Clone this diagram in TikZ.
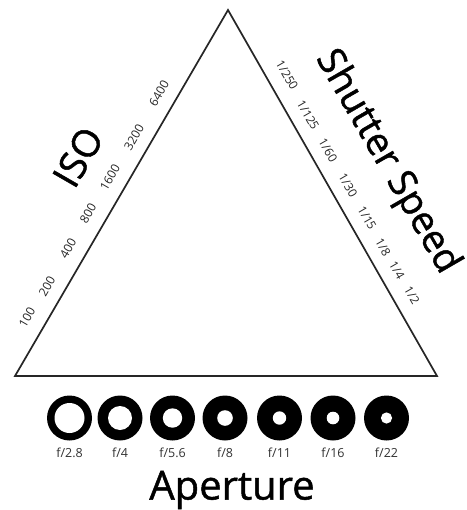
\documentclass[tikz,border=0pt]{standalone}
\usepackage{fontspec}
\setmainfont{Open Sans}
\newfontfamily\heavyfont{Open Sans}[FakeBold=1.2]
\begin{document}
\begin{tikzpicture}[x=1pt,y=-1pt,
  side/.style={line width=1.7pt,line join=miter,draw=black!85},
  isonum/.style={font=\fontsize{12}{14}\selectfont,rotate=60,inner sep=0pt,text=black!85},
  shnum/.style={font=\fontsize{12}{14}\selectfont,rotate=-60,inner sep=0pt,text=black!85},
  big/.style={font=\heavyfont\fontsize{38}{42}\selectfont,inner sep=0pt},
  flabel/.style={font=\fontsize{12.5}{14}\selectfont,inner sep=0pt,text=black!80},
  ring/.style={fill=black},
  hole/.style={fill=white}]
\useasboundingbox (0,0) rectangle (466,510);
\fill[white] (0,0) rectangle (466,510);
\coordinate (A) at (228,10);
\coordinate (L) at (15,376);
\coordinate (R) at (437,376);
\draw[side] (A) -- (R) -- (L) -- cycle;
% ISO
\node[big,rotate=60] (iso) at (78,157) {ISO};
\node[isonum] (i100) at (27,317) {100};
\node[isonum] (i200) at (47,286) {200};
\node[isonum] (i400) at (68,248) {400};
\node[isonum] (i800) at (88,213) {800};
\node[isonum] (i1600) at (110,177) {1600};
\node[isonum] (i3200) at (134,137) {3200};
\node[isonum] (i6400) at (159,93) {6400};
% Shutter
\node[big,rotate=-60] (ss) at (387,162) {Shutter Speed};
\node[shnum] (s250) at (287,75) {1/250};
\node[shnum] (s125) at (308,115) {1/125};
\node[shnum] (s60) at (328,150) {1/60};
\node[shnum] (s30) at (348,185) {1/30};
\node[shnum] (s15) at (367,218) {1/15};
\node[shnum] (s8) at (383,247) {1/8};
\node[shnum] (s4) at (397,270) {1/4};
\node[shnum] (s2) at (412,295) {1/2};
% Aperture
\foreach \x/\r/\t/\n in {69.5/15/f\slash 2.8/a,120/12/f\slash 4/b,172.5/9.7/f\slash 5.6/c,225/7.8/f\slash 8/d,279.5/6.7/f\slash 11/e,333/6.3/f\slash 16/f,386.5/5.6/f\slash 22/g}{
  \fill[ring] (\x,418) circle (22.5pt);
  \fill[hole] (\x,418) circle (\r pt);
  \node[flabel] (ap\n) at (\x,453) {\t};
}
\node[big,font=\heavyfont\fontsize{40}{44}\selectfont] (ap) at (232,490) {Aperture};
\end{tikzpicture}
\end{document}
